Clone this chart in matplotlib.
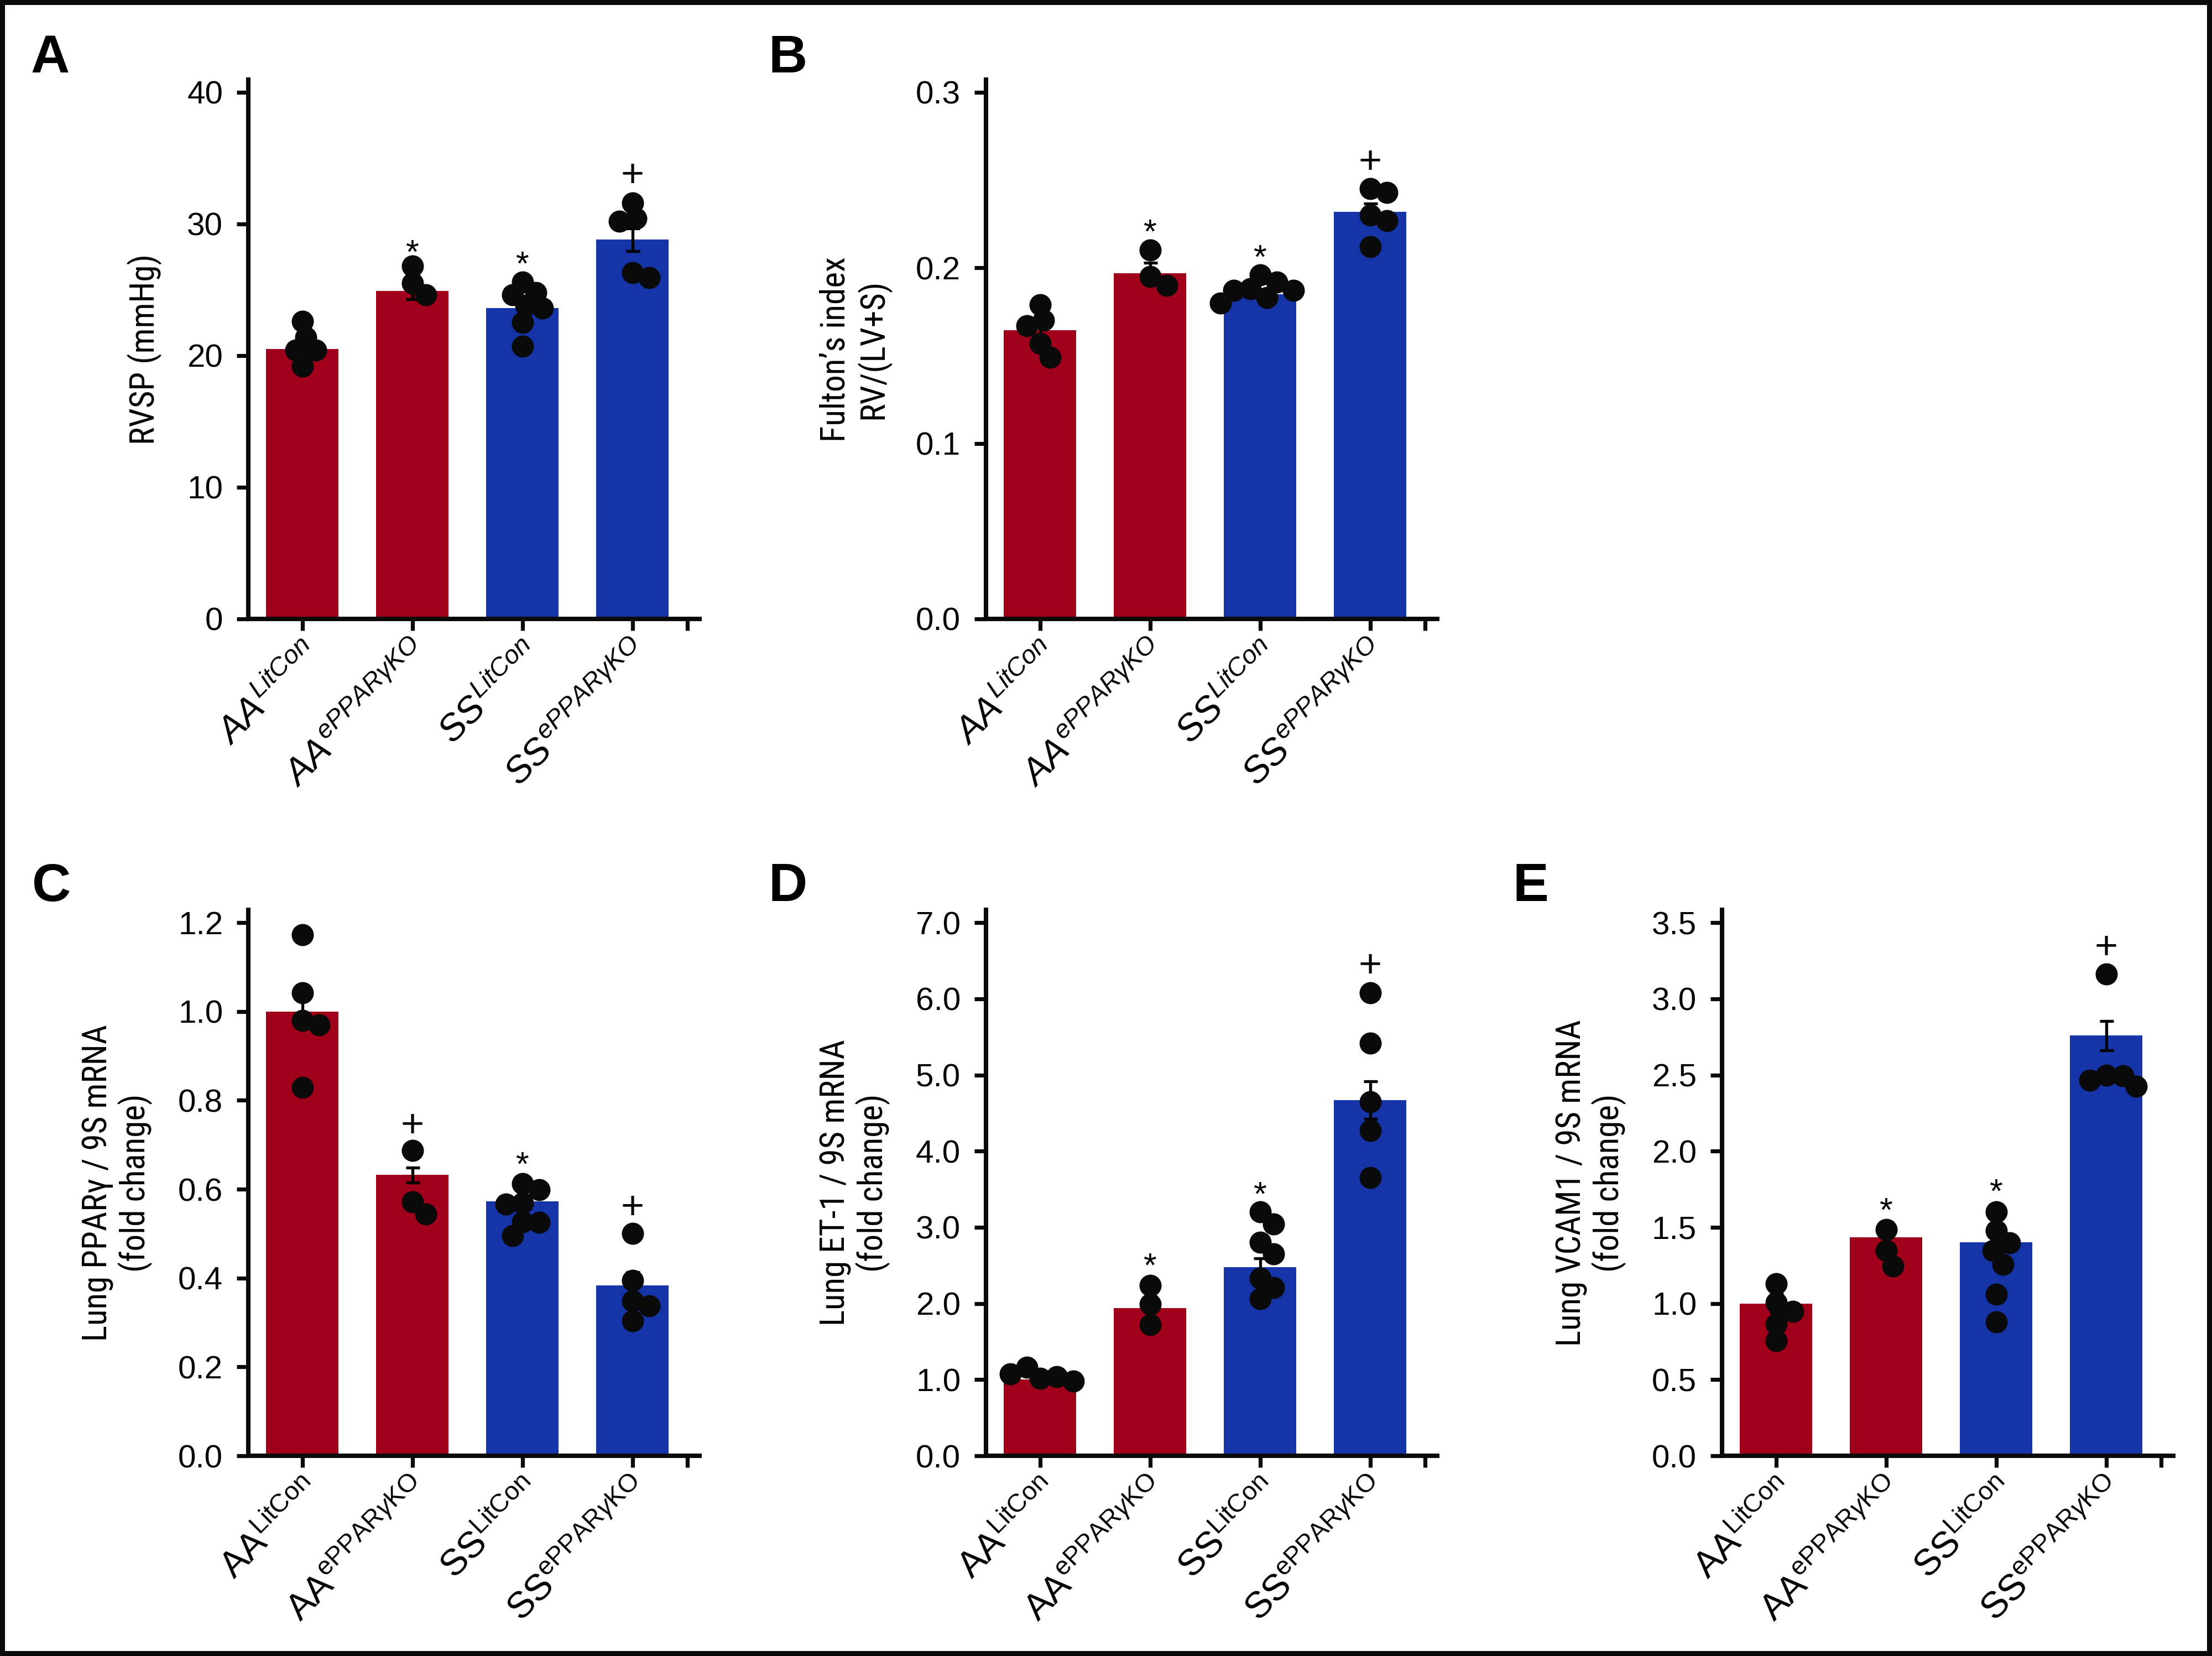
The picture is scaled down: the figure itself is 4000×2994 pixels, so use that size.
import numpy as np
import matplotlib
matplotlib.use('Agg')
import matplotlib.pyplot as plt
from matplotlib.patches import Rectangle
from matplotlib.transforms import ScaledTranslation
from matplotlib import font_manager

plt.rcParams['font.family'] = ['Liberation Sans', 'DejaVu Sans']
plt.rcParams['mathtext.fontset'] = 'custom'
plt.rcParams['mathtext.rm'] = 'Liberation Sans'
plt.rcParams['mathtext.it'] = 'Liberation Sans:italic'
plt.rcParams['mathtext.bf'] = 'Liberation Sans:bold'

RED = '#A0001A'
BLUE = '#1534A8'
bar_colors = [RED, RED, BLUE, BLUE]

# group labels (top row italic, bottom row upright)
labels_it = [r'$\mathit{AA}^{\mathit{LitCon}}$', r'$\mathit{AA}^{\mathit{ePPAR\gamma KO}}$',
             r'$\mathit{SS}^{\mathit{LitCon}}$', r'$\mathit{SS}^{\mathit{ePPAR\gamma KO}}$']
labels_rm = [r'$\mathrm{AA}^{\mathrm{LitCon}}$', r'$\mathrm{AA}^{\mathrm{ePPAR}\gamma\mathrm{KO}}$',
             r'$\mathrm{SS}^{\mathrm{LitCon}}$', r'$\mathrm{SS}^{\mathrm{ePPAR}\gamma\mathrm{KO}}$']

# A: RVSP
rvsp_pts = [[22.6, 21.4, 20.4, 20.4, 19.2],
            [26.8, 25.5, 24.6],
            [25.6, 24.8, 24.6, 23.8, 23.6, 22.5, 20.7],
            [31.6, 30.4, 30.2, 26.3, 25.9]]
rvsp_mean = [20.5, 24.9, 23.6, 28.8]
rvsp_sem = [0.6, 0.6, 0.6, 0.85]
rvsp_marks = ['', '*', '*', '+']
rvsp_mark_y = [0, 28.5, 27.6, 33.9]
rvsp_ticks = [0, 10, 20, 30, 40]

# B: Fulton's index
fulton_pts = [[0.179, 0.170, 0.167, 0.157, 0.149],
              [0.210, 0.195, 0.190],
              [0.196, 0.192, 0.188, 0.187, 0.187, 0.183, 0.180],
              [0.245, 0.243, 0.230, 0.227, 0.212]]
fulton_mean = [0.1645, 0.197, 0.185, 0.232]
fulton_sem = [0.004, 0.006, 0.002, 0.0046]
fulton_marks = ['', '*', '*', '+']
fulton_mark_y = [0, 0.2255, 0.211, 0.262]
fulton_ticks = [0.0, 0.1, 0.2, 0.3]

# C: PPARg mRNA
ppar_pts = [[1.173, 1.042, 0.98, 0.97, 0.829],
            [0.687, 0.571, 0.544],
            [0.613, 0.599, 0.569, 0.567, 0.527, 0.525, 0.496],
            [0.501, 0.395, 0.349, 0.337, 0.304]]
ppar_mean = [1.0, 0.632, 0.573, 0.383]
ppar_sem = [0.033, 0.017, 0.012, 0.03]
ppar_marks = ['', '+', '*', '+']
ppar_mark_y = [0, 0.75, 0.675, 0.565]
ppar_ticks = [0.0, 0.2, 0.4, 0.6, 0.8, 1.0, 1.2]

# D: ET-1 mRNA
et1_pts = [[1.02, 1.04, 1.16, 1.075, 0.98],
           [2.24, 1.99, 1.72],
           [3.2, 3.04, 2.80, 2.65, 2.33, 2.21, 2.06],
           [6.08, 5.42, 4.65, 4.27, 3.65]]
et1_mean = [1.0, 1.94, 2.48, 4.67]
et1_sem = [0.03, 0.15, 0.115, 0.25]
et1_marks = ['', '*', '*', '+']
et1_mark_y = [0, 2.61, 3.55, 6.47]
et1_ticks = [0.0, 1.0, 2.0, 3.0, 4.0, 5.0, 6.0, 7.0]

# E: VCAM1 mRNA
vcam_pts = [[1.128, 1.005, 0.949, 0.864, 0.755],
            [1.486, 1.346, 1.247],
            [1.602, 1.479, 1.398, 1.346, 1.258, 1.061, 0.878],
            [3.162, 2.498, 2.495, 2.467, 2.425]]
vcam_mean = [1.0, 1.434, 1.402, 2.758]
vcam_sem = [0.06, 0.07, 0.08, 0.097]
vcam_marks = ['', '*', '*', '+']
vcam_mark_y = [0, 1.669, 1.792, 3.356]
vcam_ticks = [0.0, 0.5, 1.0, 1.5, 2.0, 2.5, 3.0, 3.5]

PX_W, PX_H = 4000, 2994
DPI = 200
AX_W = 816
PX_PER_CAT = AX_W / 4.10
DOT = 40  # px

# condensed face for the y titles if one is installed
_names = {f.name for f in font_manager.fontManager.ttflist}
_dejavu_cond = any(f.name == 'DejaVu Sans' and 'condensed' in str(f.stretch)
                   for f in font_manager.fontManager.ttflist)
if 'Liberation Sans Narrow' in _names:
    YLAB = dict(family='Liberation Sans Narrow', fontsize=23)
elif 'Roboto Condensed' in _names:
    YLAB = dict(family='Roboto Condensed', fontsize=22)
elif _dejavu_cond:
    YLAB = dict(family='DejaVu Sans', fontstretch='condensed', fontsize=21)
else:
    YLAB = dict(family='Liberation Sans', fontsize=19)


def rect(left, y0, h):
    return [left / PX_W, (PX_H - y0) / PX_H, AX_W / PX_W, h / PX_H]


def swarm(vals, px_per_unit):
    placed, offs = [], []
    step = DOT * 0.15
    lim = DOT * 0.72
    for v in vals:
        y = v * px_per_unit
        x = 0.0
        for k in range(80):
            cands = [0.0] if k == 0 else [k * step, -k * step]
            ok = False
            for c in cands:
                if all((c - px) ** 2 + (y - py) ** 2 >= lim ** 2 for px, py in placed):
                    x, ok = c, True
                    break
            if ok:
                break
        placed.append((x, y))
        offs.append(x / PX_PER_CAT)
    return offs


def panel(fig, r, h_px, pts, mean, sem, marks, mark_y, ticks, fmt, ylabel, lab_dist, xlabels):
    ax = fig.add_axes(r)
    top = ticks[-1] * 1.024
    x = np.arange(4)
    ax.bar(x, mean, width=0.66, color=bar_colors, zorder=1)
    ax.errorbar(x, mean, yerr=sem, fmt='none', ecolor='black', elinewidth=1.9,
                capsize=4.5, capthick=1.9, zorder=2)
    ppu = h_px / top
    for i, vals in enumerate(pts):
        offs = swarm(vals, ppu)
        ax.scatter(i + np.array(offs), vals, s=(DOT * 72 / DPI) ** 2, color='#0a0a0a',
                   zorder=3, linewidths=0)
    for i, m in enumerate(marks):
        if not m:
            continue
        fs = 22 if m == '*' else 26
        shift = 0.57 if m == '*' else 0.35
        ax.annotate(m, (i, mark_y[i]), xytext=(0, -shift * fs), textcoords='offset points',
                    ha='center', va='baseline', fontsize=fs)
    ax.set_xlim(-0.49, 3.61)
    ax.set_ylim(0, top)
    ax.set_yticks(ticks)
    ax.set_yticklabels([fmt.format(t) for t in ticks], fontsize=21)
    ax.set_xticks([0, 1, 2, 3, 3.5])
    ax.set_xticklabels(xlabels + [''], rotation=45, ha='right', rotation_mode='anchor', fontsize=24)
    shift_lbl = ScaledTranslation(34 / DPI, -28 / DPI, fig.dpi_scale_trans)
    for lbl in ax.get_xticklabels():
        lbl.set_transform(lbl.get_transform() + shift_lbl)
    for s in ['top', 'right']:
        ax.spines[s].set_visible(False)
    for s in ['left', 'bottom']:
        ax.spines[s].set_linewidth(2.9)
        ax.spines[s].set_color('#0a0a0a')
    ax.tick_params(axis='both', length=7.5, width=2.6, color='#0a0a0a')
    ax.tick_params(axis='y', pad=9)
    ax.tick_params(axis='x', pad=4)
    ax.set_ylabel(ylabel, linespacing=1.15, **YLAB)
    ax.yaxis.label.set_va('center')
    ax.yaxis.set_label_coords(-lab_dist / AX_W, 0.5)
    return ax


fig = plt.figure(figsize=(PX_W / DPI, PX_H / DPI), dpi=DPI)

TOP_Y0, TOP_H = 1119, 975
BOT_Y0, BOT_H = 2632, 987

panel(fig, rect(449, TOP_Y0, TOP_H), TOP_H, rvsp_pts, rvsp_mean, rvsp_sem, rvsp_marks, rvsp_mark_y,
      rvsp_ticks, '{:.0f}', 'RVSP (mmHg)', 188, labels_it)
panel(fig, rect(1783, TOP_Y0, TOP_H), TOP_H, fulton_pts, fulton_mean, fulton_sem, fulton_marks,
      fulton_mark_y, fulton_ticks, '{:.1f}', 'Fulton\u2019s index\nRV/(LV+S)', 237, labels_it)
panel(fig, rect(449, BOT_Y0, BOT_H), BOT_H, ppar_pts, ppar_mean, ppar_sem, ppar_marks, ppar_mark_y,
      ppar_ticks, '{:.1f}', 'Lung PPAR\u03b3 / 9S mRNA\n(fold change)', 237, labels_rm)
panel(fig, rect(1783, BOT_Y0, BOT_H), BOT_H, et1_pts, et1_mean, et1_sem, et1_marks, et1_mark_y,
      et1_ticks, '{:.1f}', 'Lung ET-1 / 9S mRNA\n(fold change)', 237, labels_rm)
panel(fig, rect(3114, BOT_Y0, BOT_H), BOT_H, vcam_pts, vcam_mean, vcam_sem, vcam_marks, vcam_mark_y,
      vcam_ticks, '{:.1f}', 'Lung VCAM1 / 9S mRNA\n(fold change)', 237, labels_rm)

for letter, (lx, ly) in zip('ABCDE', [(56, 131), (1390, 131), (58, 1629), (1390, 1629), (2735, 1629)]):
    fig.text(lx / PX_W, 1 - ly / PX_H, letter, fontsize=35, fontweight='bold', ha='left', va='baseline')

fig.add_artist(Rectangle((0, 0), 1, 1, transform=fig.transFigure, fill=False, lw=6.5,
                         edgecolor='#0a0a0a'))

fig.savefig('out.png', dpi=DPI)
